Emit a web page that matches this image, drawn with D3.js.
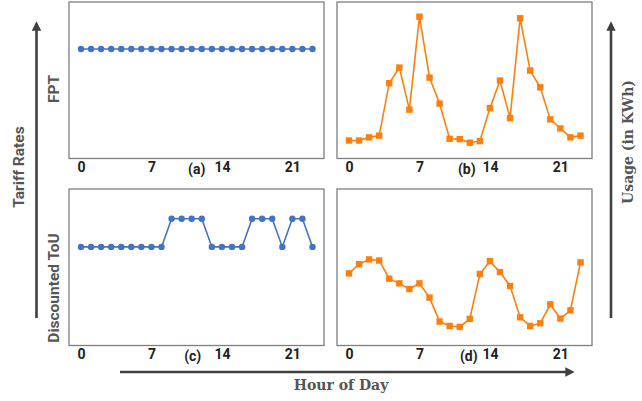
<!DOCTYPE html>
<html>
  <head>
    <meta charset="utf-8">
    <title>Tariff rates and usage</title>
    <script src="https://cdnjs.cloudflare.com/ajax/libs/d3/7.8.5/d3.min.js"></script>
    <style>
      body { margin: 0; background: #fff; }
      .tick text { font-family: Roboto, sans-serif; font-weight: 700; font-size: 14px; fill: #222; }
    </style>
  </head>
  <body>
    <div id="chart"></div>
    <script>

// hours of the day and tick labels
var hours = d3.range(0, 24);
var hourTicks = [0, 7, 14, 21];

// tariff rates (arbitrary units, 0-10)
var fptRate = [7,7,7,7,7,7,7,7,7,7,7,7,7,7,7,7,7,7,7,7,7,7,7,7];
var touRate = [6.3,6.3,6.3,6.3,6.3,6.3,6.3,6.3,6.3,8.1,8.1,8.1,8.1,6.3,6.3,6.3,6.3,8.1,8.1,8.1,6.3,8.1,8.1,6.3];

// usage (arbitrary units, 0-10)
var fptUsage = [1.15,1.15,1.35,1.46,4.81,5.81,3.12,9.06,5.17,3.51,1.26,1.24,1.01,1.11,3.22,4.98,2.58,8.96,5.62,4.55,2.5,1.92,1.35,1.46];
var touUsage = [4.61,5.2,5.5,5.43,4.27,3.97,3.61,3.97,3.06,1.53,1.25,1.19,1.7,4.57,5.39,4.69,3.8,1.8,1.25,1.42,2.63,1.72,2.25,5.31];

var panels = [
  {name: "(a)", col: 0, row: 0, values: fptRate, kind: "rate", at: 11.5},
  {name: "(b)", col: 1, row: 0, values: fptUsage, kind: "usage", at: 11.7},
  {name: "(c)", col: 0, row: 1, values: touRate, kind: "rate", at: 11.1},
  {name: "(d)", col: 1, row: 1, values: touUsage, kind: "usage", at: 11.9}
];

var W = 642, H = 401;
var colX = [69, 337], panelW = 255;
var rowY = [2, 189], panelH = 156.5;
var blue = "#4472c4", orange = "#ff7f0e";
var sans = "Roboto, 'Open Sans', sans-serif";

var svg = d3.select("#chart").append("svg")
    .attr("width", W).attr("height", H);

panels.forEach(function(p) {
    var x0 = colX[p.col], y0 = rowY[p.row];
    var x = d3.scaleLinear().domain([0, 23]).range([x0 + 12, x0 + panelW - 11.5]);
    var y = d3.scaleLinear().domain([0, 10]).range([y0 + panelH, y0]);
    var g = svg.append("g");

    g.append("rect")
        .attr("x", x0).attr("y", y0)
        .attr("width", panelW).attr("height", panelH)
        .attr("fill", "none").attr("stroke", "#7f7f7f").attr("stroke-width", 1.3);

    var color = p.kind == "rate" ? blue : orange;
    var line = d3.line().x(function(d, i) { return x(i); }).y(function(d) { return y(d); });

    g.append("path")
        .datum(p.values)
        .attr("d", line)
        .attr("fill", "none").attr("stroke", color).attr("stroke-width", 1.6);

    if (p.kind == "rate") {
        g.selectAll("circle").data(p.values).enter().append("circle")
            .attr("cx", function(d, i) { return x(i); })
            .attr("cy", function(d) { return y(d); })
            .attr("r", 3.2)
            .attr("fill", color);
    } else {
        g.selectAll("rect.m").data(p.values).enter().append("rect")
            .attr("class", "m")
            .attr("x", function(d, i) { return x(i) - 3.2; })
            .attr("y", function(d) { return y(d) - 3.2; })
            .attr("width", 6.4).attr("height", 6.4)
            .attr("fill", color);
    }

    // hour ticks below the panel
    var ax = g.append("g")
        .attr("transform", "translate(0," + (y0 + panelH + 1) + ")")
        .call(d3.axisBottom(x).tickValues(hourTicks).tickSize(0).tickPadding(3));
    ax.select(".domain").remove();

    g.append("text")
        .attr("x", x(p.at)).attr("y", y0 + panelH + 15)
        .attr("text-anchor", "middle")
        .style("font-family", sans)
        .style("font-weight", "700").style("font-size", "14px").style("fill", "#222")
        .text(p.name);
});

// arrows
var defs = svg.append("defs");
defs.append("marker")
    .attr("id", "head")
    .attr("viewBox", "0 0 10 10")
    .attr("refX", 5).attr("refY", 5)
    .attr("markerWidth", 3.6).attr("markerHeight", 3.6)
    .attr("orient", "auto")
  .append("path")
    .attr("d", "M0,0 L10,5 L0,10 z")
    .attr("fill", "#404040");

var arrows = [
    [36.5, 318, 36.5, 26],
    [611, 318, 611, 26],
    [120, 372, 570, 372]
];
svg.selectAll("line.arrow").data(arrows).enter().append("line")
    .attr("class", "arrow")
    .attr("x1", function(d) { return d[0]; }).attr("y1", function(d) { return d[1]; })
    .attr("x2", function(d) { return d[2]; }).attr("y2", function(d) { return d[3]; })
    .attr("stroke", "#404040").attr("stroke-width", 2.6)
    .attr("marker-end", "url(#head)");

// axis titles
function vtext(x, y, txt, font, size) {
    svg.append("text")
        .attr("transform", "translate(" + x + "," + y + ") rotate(-90)")
        .attr("text-anchor", "middle")
        .style("font-family", font)
        .style("font-weight", "700").style("font-size", size).style("fill", "#555")
        .text(txt);
}
vtext(24, 167, "Tariff Rates", sans, "15.5px");
vtext(59, 89, "FPT", sans, "15.5px");
vtext(59, 288, "Discounted ToU", sans, "15.5px");
vtext(633, 142, "Usage (in KWh)", "'DejaVu Serif', serif", "14px");

svg.append("text")
    .attr("x", 341).attr("y", 390)
    .attr("text-anchor", "middle")
    .style("font-family", "'DejaVu Serif', serif")
    .style("font-weight", "700").style("font-size", "14px").style("fill", "#555")
    .text("Hour of Day");

    </script>
  </body>
</html>
